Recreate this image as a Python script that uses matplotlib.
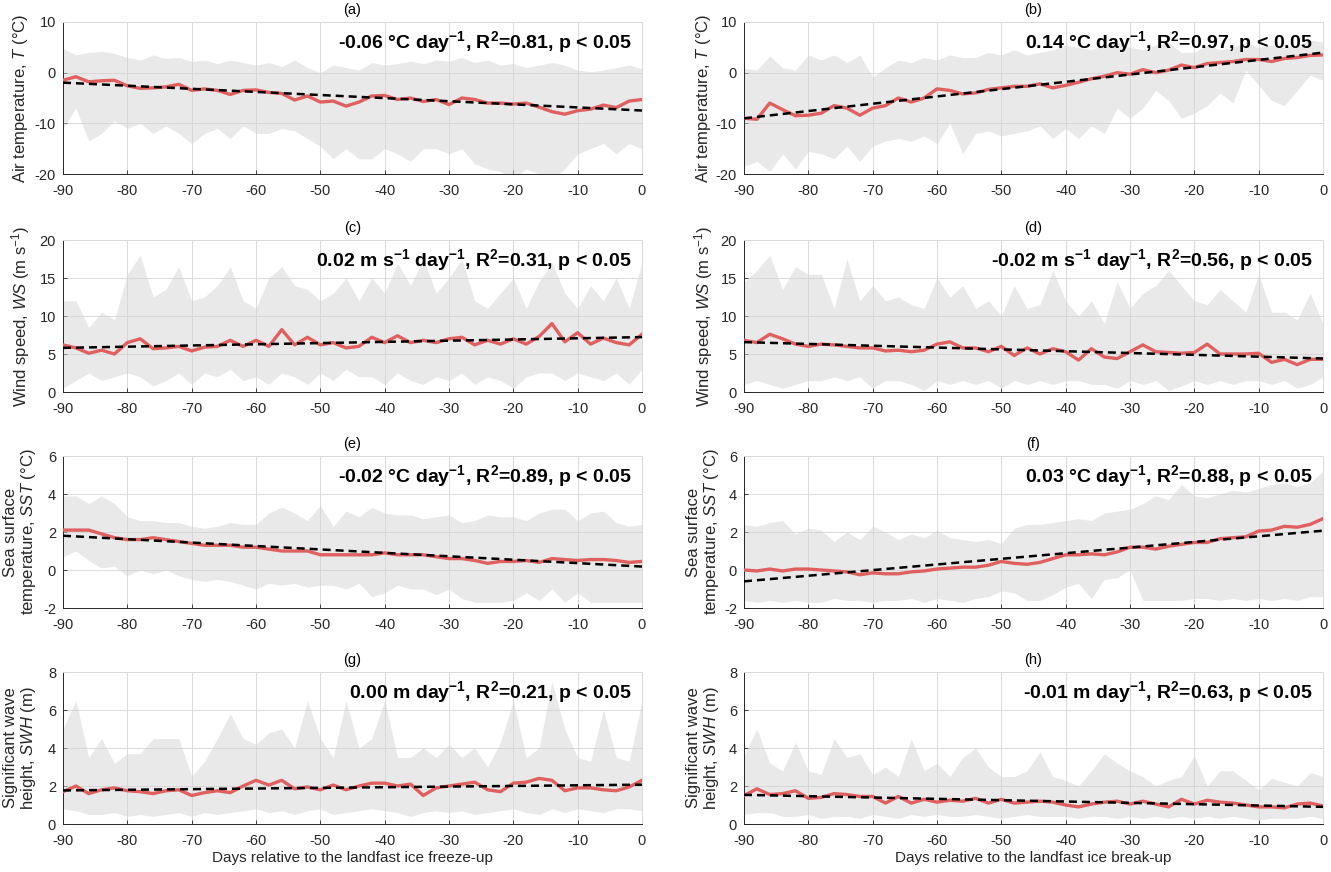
import numpy as np
import matplotlib
matplotlib.use("Agg")
import matplotlib.pyplot as plt

plt.rcParams['font.family'] = ['Liberation Sans', 'DejaVu Sans']
plt.rcParams['mathtext.fontset'] = 'custom'
plt.rcParams['mathtext.rm'] = 'Liberation Sans'
plt.rcParams['mathtext.it'] = 'Liberation Sans:italic'
plt.rcParams['mathtext.bf'] = 'Liberation Sans:bold'
plt.rcParams['axes.unicode_minus'] = False

# days relative to the event, every second day
days = np.arange(-90, 1, 2)

# (a) air temperature, freeze-up
a_mean = [-1.5, -0.8, -1.8, -1.6, -1.5, -2.6, -3.1, -3.0, -2.8, -2.3, -3.5, -3.2, -3.5, -4.3, -3.5, -3.4,
          -3.9, -4.1, -5.4, -4.6, -5.8, -5.6, -6.6, -5.8, -4.6, -4.5, -5.3, -5.0, -5.7, -5.3, -6.3, -5.0,
          -5.3, -6.0, -6.0, -6.2, -6.0, -6.8, -7.7, -8.2, -7.5, -7.2, -6.4, -6.9, -5.6, -5.3]
a_hi = [4.8, 3.5, 4.0, 4.2, 3.8, 3.0, 2.5, 3.5, 2.8, 3.0, 2.2, 2.5, 1.8, 2.5, 2.0, 1.5, 2.0, 1.2, 2.5, 1.0,
        0.0, 1.5, 1.0, 0.5, 2.0, 1.5, 1.8, 2.3, 1.8, 2.5, 2.3, 3.0, 2.0, 2.5, 1.5, 1.8, 1.0, 1.5, 2.0, 1.5,
        0.5, 0.2, 0.5, 1.0, 1.5, 0.8]
a_lo = [-11, -7, -13.5, -12, -9.5, -11, -10, -12, -10.5, -12, -14, -12, -11, -13, -10.5, -12, -12, -11,
        -11.5, -13, -14.5, -17, -15, -17, -17, -15, -16, -17.5, -15, -15, -16, -15, -18, -19, -19.5, -21,
        -19, -20, -21, -19, -16, -15, -14, -16, -14, -15]

# (b) air temperature, break-up
b_mean = [-9.0, -9.2, -6.0, -7.3, -8.5, -8.4, -8.0, -6.5, -7.0, -8.4, -7.0, -6.5, -5.0, -5.8, -5.0, -3.2,
          -3.5, -4.2, -4.0, -3.3, -3.0, -2.7, -2.7, -2.2, -3.0, -2.5, -1.9, -1.2, -0.7, 0.0, -0.3, 0.6,
          0.0, 0.5, 1.5, 1.0, 1.8, 2.0, 2.2, 2.6, 2.6, 2.2, 2.8, 3.0, 3.4, 3.5]
b_hi = [0.9, 0.5, 3.3, 1.0, 0.5, 3.5, 2.5, 3.5, 2.0, 3.5, -0.9, 1.0, 2.5, 2.0, 3.0, 2.5, 3.5, 3.0, 3.0, 4.0,
        3.5, 4.5, 3.5, 4.0, 4.5, 5.5, 5.0, 4.5, 5.5, 6.0, 5.0, 4.5, 5.5, 6.0, 4.0, 4.0, 5.5, 4.5, 5.0, 6.0,
        5.0, 5.5, 5.0, 5.5, 6.5, 6.0]
b_lo = [-18.5, -17.5, -19.5, -16, -19, -15.5, -16, -17, -14.5, -17.5, -14.5, -13.5, -13, -13.5, -12.5, -14,
        -10, -16, -12, -11.5, -12.5, -12, -11.5, -10.5, -13, -11, -13, -10.5, -12, -7, -9, -7, -3.5, -5.5,
        -9, -8, -6.5, -4, -6, 0.5, -2.5, -5.5, -6.5, -3.5, -0.5, -1.5]

# (c) wind speed, freeze-up
c_mean = [6.2, 5.8, 5.1, 5.5, 5.0, 6.5, 7.0, 5.7, 5.8, 6.0, 5.4, 5.9, 6.0, 6.8, 6.0, 6.8, 6.0, 8.2, 6.2, 7.2,
          6.2, 6.5, 5.8, 6.0, 7.2, 6.5, 7.4, 6.5, 6.8, 6.5, 7.0, 7.2, 6.2, 6.8, 6.3, 7.0, 6.3, 7.3, 9.0, 6.6,
          7.8, 6.3, 7.1, 6.5, 6.2, 7.6]
c_hi = [12, 12, 8.5, 10.5, 9.5, 15.5, 18.0, 12.5, 13.5, 16.5, 12, 12.5, 14, 16.5, 12, 11, 15, 16.5, 14, 13.5,
        12, 13, 15, 12, 15, 13, 17, 14, 17.5, 13, 15, 17.5, 12, 11, 13, 15, 11, 14.5, 17, 13, 11, 14, 12, 15,
        11, 17]
c_lo = [0.5, 1.5, 2.5, 1.5, 2.0, 2.5, 2.0, 0.8, 1.5, 2.5, 1.0, 2.5, 2.0, 3.0, 1.5, 2.0, 1.0, 2.5, 2.0, 1.0,
        2.5, 1.5, 3.0, 2.0, 2.0, 1.0, 2.5, 1.5, 1.0, 2.0, 1.5, 2.5, 1.0, 2.0, 1.5, 0.5, 2.0, 2.5, 2.5, 1.5,
        2.5, 2.0, 1.5, 2.5, 1.0, 3.0]

# (d) wind speed, break-up
d_mean = [6.8, 6.5, 7.6, 7.0, 6.3, 6.0, 6.3, 6.2, 6.0, 5.8, 5.8, 5.4, 5.5, 5.3, 5.5, 6.3, 6.6, 5.8, 5.8, 5.3,
          6.0, 4.8, 5.8, 5.0, 5.7, 5.3, 4.2, 5.7, 4.6, 4.4, 5.3, 6.2, 5.3, 5.2, 5.1, 5.2, 6.3, 5.0, 5.0, 5.0,
          5.1, 3.9, 4.3, 3.6, 4.3, 4.3]
d_hi = [14.5, 16, 18, 13.5, 16.5, 15.5, 15.5, 11, 17.5, 12, 14, 12, 12.5, 11.5, 11, 15, 12.5, 14, 11, 12,
        10, 14, 11, 11.5, 16, 12, 10, 12, 9, 14.5, 11, 13, 14, 16, 14, 12, 11.5, 13.5, 12, 10.5, 15.5, 10.5,
        10.5, 9.5, 13, 9]
d_lo = [1.0, 1.5, 1.0, 0.5, 1.0, 1.5, 1.5, 2.0, 1.5, 2.0, 0.5, 1.5, 1.5, 1.0, 0.2, 1.5, 1.0, 1.5, 1.0, 1.5,
        0.5, 1.5, 1.0, 1.5, 1.0, 1.5, 1.5, 1.0, 1.0, 0.5, 1.5, 1.0, 1.5, 0.2, 0.8, 1.5, 1.0, 1.5, 1.0, 1.5,
        1.5, 1.0, 1.5, 0.5, 1.0, 2.0]

# (e) sea surface temperature, freeze-up
e_mean = [2.1, 2.1, 2.1, 1.9, 1.7, 1.6, 1.6, 1.7, 1.6, 1.5, 1.4, 1.3, 1.3, 1.3, 1.2, 1.2, 1.1, 1.0, 1.0, 1.0,
          0.8, 0.8, 0.8, 0.8, 0.8, 0.9, 0.8, 0.8, 0.8, 0.7, 0.6, 0.6, 0.5, 0.35, 0.45, 0.45, 0.5, 0.4, 0.6,
          0.55, 0.5, 0.55, 0.55, 0.5, 0.4, 0.45]
e_hi = [3.9, 3.9, 3.5, 3.9, 3.5, 2.8, 2.6, 2.6, 2.5, 2.5, 2.3, 2.2, 2.3, 2.5, 2.4, 2.4, 3.0, 3.3, 3.0, 2.6,
        3.4, 2.3, 3.1, 2.8, 3.3, 3.0, 2.9, 2.9, 2.7, 2.8, 2.9, 2.5, 2.6, 2.9, 2.8, 2.8, 2.6, 3.0, 3.2, 3.2,
        2.6, 3.0, 3.1, 2.5, 2.3, 2.4]
e_lo = [0.7, 1.0, 0.5, 0.1, 0.2, -0.3, 0.0, -0.2, 0.0, -0.3, -0.5, -0.6, -0.5, -0.6, -0.8, -1.0, -0.7, -0.8,
        -0.7, -0.9, -0.8, -0.8, -1.0, -0.7, -1.4, -1.2, -0.8, -1.0, -1.0, -1.3, -1.0, -1.5, -1.7, -1.7, -1.7,
        -1.6, -1.2, -1.6, -1.0, -1.7, -1.2, -1.7, -1.7, -1.7, -1.7, -1.7]

# (f) sea surface temperature, break-up
f_mean = [0.0, -0.05, 0.05, -0.05, 0.05, 0.05, 0.0, -0.05, -0.1, -0.25, -0.15, -0.2, -0.2, -0.1, -0.05, 0.05,
          0.1, 0.15, 0.15, 0.25, 0.45, 0.35, 0.3, 0.4, 0.6, 0.8, 0.8, 0.85, 0.8, 0.95, 1.2, 1.2, 1.1, 1.25,
          1.35, 1.45, 1.45, 1.65, 1.7, 1.75, 2.05, 2.1, 2.3, 2.25, 2.4, 2.7]
f_hi = [2.4, 2.3, 2.5, 2.6, 1.9, 2.2, 2.1, 1.5, 2.0, 1.6, 2.3, 2.0, 1.6, 1.9, 1.7, 2.1, 1.7, 1.6, 1.5, 1.6,
        1.4, 2.2, 2.4, 2.4, 2.5, 2.6, 2.7, 2.6, 3.0, 3.1, 3.2, 3.5, 3.9, 3.7, 4.5, 3.9, 3.8, 4.0, 4.2, 4.1,
        4.3, 4.5, 4.6, 4.4, 4.6, 5.2]
f_lo = [-1.6, -1.7, -1.6, -1.7, -1.6, -1.7, -1.7, -1.5, -1.6, -1.6, -1.7, -1.6, -1.6, -1.5, -1.7, -1.5, -1.6,
        -1.7, -1.5, -1.4, -1.1, -1.2, -1.6, -1.6, -1.3, -0.9, -0.7, -1.5, -0.5, -0.4, 0.0, -1.6, -1.6, -1.6,
        -1.6, -1.5, -1.5, -1.6, -1.5, -1.6, -1.5, -1.6, -1.5, -1.6, -1.4, -1.4]

# (g) significant wave height, freeze-up
g_mean = [1.7, 2.0, 1.6, 1.8, 1.9, 1.75, 1.7, 1.6, 1.75, 1.8, 1.5, 1.65, 1.75, 1.65, 2.0, 2.3, 2.05, 2.3, 1.85,
          1.95, 1.8, 2.05, 1.8, 2.0, 2.15, 2.15, 2.0, 2.1, 1.5, 1.9, 2.0, 2.1, 2.2, 1.8, 1.7, 2.15, 2.2, 2.4,
          2.3, 1.75, 1.9, 1.9, 1.8, 1.75, 1.95, 2.3]
g_hi = [5.0, 6.5, 3.5, 4.5, 3.2, 3.7, 3.7, 4.5, 4.5, 4.5, 2.5, 3.3, 4.5, 5.8, 4.5, 4.2, 4.8, 5.0, 4.0, 6.5,
        4.5, 3.5, 6.5, 4.0, 4.5, 6.5, 3.5, 3.5, 4.0, 3.5, 4.2, 3.5, 4.0, 3.0, 4.3, 6.5, 3.5, 4.0, 7.5, 5.0,
        3.5, 3.3, 6.0, 3.5, 3.3, 6.5]
g_lo = [0.8, 0.7, 0.5, 0.5, 0.6, 0.4, 0.5, 0.4, 0.5, 0.6, 0.4, 0.6, 0.5, 0.6, 0.7, 0.8, 0.6, 0.7, 0.5, 0.7,
        0.8, 0.5, 0.6, 0.7, 0.8, 0.7, 0.6, 0.4, 0.6, 0.7, 0.6, 0.7, 0.5, 0.6, 0.7, 0.8, 0.6, 0.5, 0.8, 0.6,
        0.8, 0.7, 0.6, 0.8, 0.8, 0.7]

# (h) significant wave height, break-up
h_mean = [1.5, 1.85, 1.55, 1.6, 1.75, 1.35, 1.4, 1.6, 1.55, 1.45, 1.45, 1.1, 1.45, 1.1, 1.3, 1.15, 1.25, 1.2,
          1.35, 1.1, 1.3, 1.1, 1.15, 1.2, 1.15, 1.0, 0.9, 1.05, 1.15, 1.2, 1.05, 1.2, 1.05, 0.9, 1.3, 1.05,
          1.25, 1.15, 1.1, 1.0, 0.9, 0.9, 0.85, 1.05, 1.1, 0.95]
h_hi = [3.6, 5.0, 3.2, 2.8, 4.3, 2.8, 2.6, 4.5, 3.5, 3.7, 2.6, 3.0, 2.5, 4.5, 2.8, 3.2, 2.5, 3.5, 4.0, 3.0,
        2.5, 2.5, 2.8, 3.8, 2.5, 2.3, 2.0, 2.8, 3.7, 3.2, 2.8, 2.5, 2.0, 2.3, 2.5, 3.6, 2.0, 2.8, 2.8, 2.3,
        1.8, 2.4, 2.2, 2.0, 2.7, 2.5]
h_lo = [0.5, 0.6, 0.6, 0.4, 0.4, 0.5, 0.3, 0.4, 0.4, 0.3, 0.5, 0.4, 0.3, 0.5, 0.4, 0.5, 0.4, 0.4, 0.5, 0.4,
        0.3, 0.4, 0.5, 0.4, 0.4, 0.4, 0.3, 0.4, 0.4, 0.3, 0.4, 0.3, 0.4, 0.3, 0.4, 0.3, 0.4, 0.3, 0.4, 0.3,
        0.2, 0.3, 0.3, 0.3, 0.4, 0.3]

panel_tags = ['(a)', '(b)', '(c)', '(d)', '(e)', '(f)', '(g)', '(h)']
means = [a_mean, b_mean, c_mean, d_mean, e_mean, f_mean, g_mean, h_mean]
highs = [a_hi, b_hi, c_hi, d_hi, e_hi, f_hi, g_hi, h_hi]
lows = [a_lo, b_lo, c_lo, d_lo, e_lo, f_lo, g_lo, h_lo]

stats = [
    r"-0.06 °C day$^{\mathbf{-1}}$, R$^{\mathbf{2}}$=0.81, p < 0.05",
    r"0.14 °C day$^{\mathbf{-1}}$, R$^{\mathbf{2}}$=0.97, p < 0.05",
    r"0.02 m s$^{\mathbf{-1}}$ day$^{\mathbf{-1}}$, R$^{\mathbf{2}}$=0.31, p < 0.05",
    r"-0.02 m s$^{\mathbf{-1}}$ day$^{\mathbf{-1}}$, R$^{\mathbf{2}}$=0.56, p < 0.05",
    r"-0.02 °C day$^{\mathbf{-1}}$, R$^{\mathbf{2}}$=0.89, p < 0.05",
    r"0.03 °C day$^{\mathbf{-1}}$, R$^{\mathbf{2}}$=0.88, p < 0.05",
    r"0.00 m day$^{\mathbf{-1}}$, R$^{\mathbf{2}}$=0.21, p < 0.05",
    r"-0.01 m day$^{\mathbf{-1}}$, R$^{\mathbf{2}}$=0.63, p < 0.05",
]

row_labels = [
    r"Air temperature, $\mathit{T}$ (°C)",
    r"Wind speed, $\mathit{WS}$ (m s$^{-1}$)",
    "Sea surface\n" + r"temperature, $\mathit{SST}$ (°C)",
    "Significant wave\n" + r"height, $\mathit{SWH}$ (m)",
]
row_ylims = [(-20, 10), (0, 20), (-2, 6), (0, 8)]
row_yticks = [[-20, -10, 0, 10], [0, 5, 10, 15, 20], [-2, 0, 2, 4, 6], [0, 2, 4, 6, 8]]
col_xlabels = ["Days relative to the landfast ice freeze-up",
               "Days relative to the landfast ice break-up"]

W, H = 1331, 872
fig = plt.figure(figsize=(W / 100, H / 100), dpi=100)

col_left = [63, 744]
ax_w = 579
row_top = [22, 240, 456, 672]
ax_h = 152

ink = '#262626'
gridc = '#dadada'

for i in range(8):
    r, c = divmod(i, 2)
    ax = fig.add_axes([col_left[c] / W, 1 - (row_top[r] + ax_h) / H, ax_w / W, ax_h / H])

    lo = np.array(lows[i])
    hi = np.array(highs[i])
    mu = np.array(means[i])

    ax.fill_between(days, lo, hi, color='#d4d4d4', alpha=0.5, lw=0, zorder=1)
    ax.plot(days, mu, color='#e06060', lw=2.4, zorder=3)
    k, b = np.polyfit(days, mu, 1)
    ax.plot(days, k * days + b, color='black', lw=1.8, dashes=(3.2, 2.0), zorder=4)

    ax.set_xlim(-90, 0)
    ax.set_ylim(*row_ylims[r])
    ax.set_xticks(np.arange(-90, 1, 10))
    ax.set_yticks(row_yticks[r])
    ax.grid(True, color=gridc, lw=0.7, zorder=0)
    ax.set_axisbelow(True)
    ax.tick_params(direction='in', length=3, width=0.6, colors=ink, labelsize=10.5)
    ax.tick_params(axis='x', pad=7)
    ax.tick_params(axis='y', pad=5)
    for s in ['left', 'bottom']:
        ax.spines[s].set_color(ink)
        ax.spines[s].set_linewidth(0.7)
    for s in ['top', 'right']:
        ax.spines[s].set_color(gridc)
        ax.spines[s].set_linewidth(0.7)

    ax.set_title(panel_tags[i], fontsize=10.5, color='black', pad=6)
    ax.set_ylabel(row_labels[r], fontsize=12, color=ink, linespacing=1.1, va='center')
    ax.yaxis.set_label_coords(-0.073 if c == 0 else -0.07, 0.5)
    if r == 3:
        ax.set_xlabel(col_xlabels[c], fontsize=11, color=ink, labelpad=2)

    ax.text(0.982, 0.87, stats[i], transform=ax.transAxes, ha='right', va='center',
            fontsize=14, fontweight='bold', color='black', zorder=5)

fig.savefig('out.png', dpi=100)
